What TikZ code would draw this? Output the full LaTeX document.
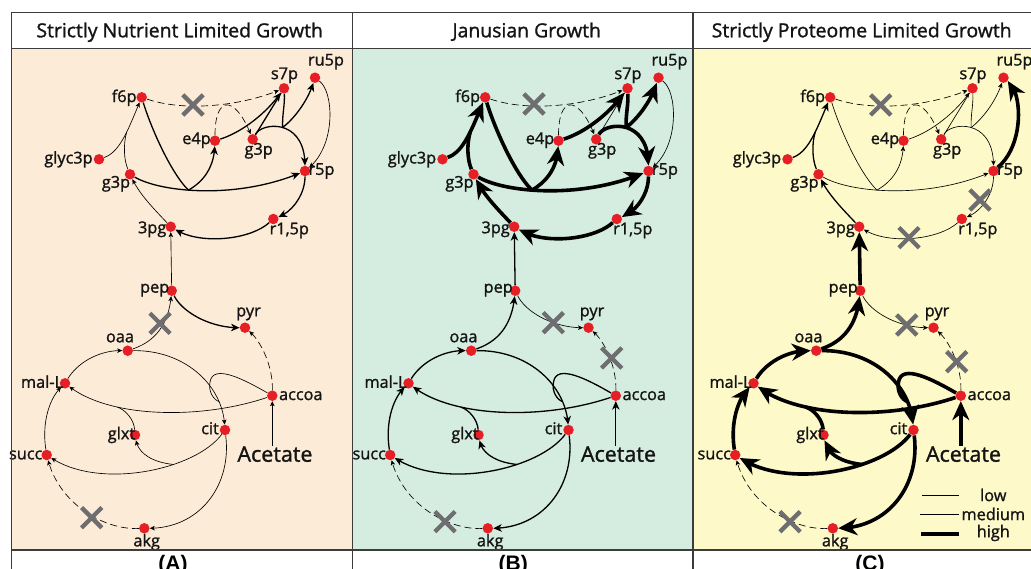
\documentclass[tikz,border=0pt]{standalone}
\usepackage{fontspec}
\setmainfont{Open Sans}
\newfontfamily\labfont{Open Sans}[FakeBold=1.3]
\newfontfamily\panelfont{Liberation Sans}
\usetikzlibrary{arrows.meta,bending,shapes.misc}
\pgfdeclarelayer{bgfill}
\pgfdeclarelayer{edges}
\pgfsetlayers{bgfill,edges,main}
\definecolor{bgA}{RGB}{252,235,214}
\definecolor{bgB}{RGB}{213,237,225}
\definecolor{bgC}{RGB}{254,249,200}
\definecolor{dotred}{RGB}{230,30,37}
\definecolor{xgray}{RGB}{110,110,113}
\definecolor{framecol}{RGB}{60,60,60}
\definecolor{ink}{RGB}{20,20,20}
\tikzset{
  dot/.style={circle, fill=dotred, inner sep=0pt, minimum size=10.5pt},
  lbl/.style={inner sep=0pt, text=ink, font=\labfont\fontsize{16.3}{18}\selectfont},
  ttl/.style={inner sep=0pt, text=ink, font=\labfont\fontsize{19.4}{22}\selectfont, anchor=base},
  plab/.style={inner sep=0pt, font=\panelfont\bfseries\fontsize{21}{24}\selectfont, anchor=base},
  lo/.style={line width=0.65pt, >={Stealth[length=5pt,width=4.5pt,inset=1.2pt]}},
  me/.style={line width=1.3pt, >={Stealth[length=8.5pt,width=7.5pt,inset=2.5pt]}},
  hi/.style={line width=3.6pt, >={Stealth[length=19pt,width=17pt,inset=6pt]}},
  da/.style={lo, dash pattern=on 7pt off 4pt},
  xmark/.style={cross out, draw=xgray, line width=4.3pt, minimum size=16pt, inner sep=0pt},
  frm/.style={draw=framecol, line width=1.3pt},
  wE4S7/.style=lo, wG3S7/.style=lo, wTK1/.style=lo, wRPI/.style={lo,->},
  wTK2/.style=lo, wFBA/.style=lo, wR5R15/.style=lo, wR153/.style=lo,
  wPG/.style=lo, wPEP3/.style=lo, wPYR/.style=lo, wOAA/.style=lo,
  wAPYR/.style=da, wTCA/.style=lo, wAKG/.style=da, wAC/.style=lo
}
\newcommand\lab[4]{\node[lbl] (#1-t) at ([shift={(#2,#3)}]#1) {#4};}
\newcommand\PanelBody{%
  \node[dot] (f6p) at (141.7,97.3) {};
  \node[dot] (s7p) at (284,88.3) {};
  \node[dot] (ru5p) at (315,77.7) {};
  \node[dot] (e4p) at (215,140.7) {};
  \node[dot] (g3pU) at (252.7,139.3) {};
  \node[dot] (glyc3p) at (99,159.3) {};
  \node[dot] (g3pL) at (130,174.3) {};
  \node[dot] (r5p) at (305,171) {};
  \node[dot] (r15p) at (273.3,219) {};
  \node[dot] (3pg) at (170.7,226.7) {};
  \node[dot] (pep) at (171.7,290.7) {};
  \node[dot] (pyr) at (245,327.7) {};
  \node[dot] (oaa) at (127.7,350.7) {};
  \node[dot] (malL) at (65,383.3) {};
  \node[dot] (accoa) at (272.3,395.7) {};
  \node[dot] (cit) at (225,430) {};
  \node[dot] (glxt) at (135,435) {};
  \node[dot] (succ) at (46.7,455) {};
  \node[dot] (akg) at (144.3,528.3) {};
  \node[inner sep=0pt, text=ink, font=\labfont\fontsize{21.5}{24}\selectfont, anchor=base] (acetate) at (275,461.7) {Acetate};
  \lab{f6p}{-17.5}{0.5}{f6p}
  \lab{s7p}{0.5}{-13}{s7p}
  \lab{ru5p}{11}{-16}{ru5p}
  \lab{e4p}{-18.5}{-0.5}{e4p}
  \lab{g3pU}{6}{11.5}{g3p}
  \lab{glyc3p}{-30.5}{0}{glyc3p}
  \lab{g3pL}{-14}{9.5}{g3p}
  \lab{r5p}{16.5}{0}{r5p}
  \lab{r15p}{16}{11.5}{r1,5p}
  \lab{3pg}{-18.5}{2.6}{3pg}
  \lab{pep}{-17}{-0.5}{pep}
  \lab{pyr}{3.5}{-13.8}{pyr}
  \lab{oaa}{-7.7}{-12.8}{oaa}
  \lab{malL}{-23}{-1.6}{mal-L}
  \lab{accoa}{28.5}{0}{accoa}
  \lab{cit}{-15}{-1.7}{cit}
  \lab{glxt}{-13.5}{0}{glxt}
  \lab{succ}{-21}{0}{succ}
  \lab{akg}{2.4}{13.8}{akg}
  \begin{pgfonlayer}{edges}
  % pentose phosphate part
  \draw[da,->] (f6p) .. controls (185,112) and (240,106) .. (s7p);
  \draw[da,->] (e4p) .. controls (215,95) and (235,95) .. (g3pU);
  \draw[wE4S7,->] (e4p) .. controls (240,133) and (265,115) .. (s7p);
  \draw[wG3S7] (g3pU) -- (s7p);
  \draw[wTK1,->] (g3pU) .. controls (262,122) and (305,118) .. (r5p) coordinate[pos=0.5] (J1);
  \draw[wTK1] (s7p) .. controls (285,105) and (282,115) .. (J1);
  \draw[wTK1,->] (J1) .. controls (295,118) and (308,100) .. (ru5p);
  \draw[wRPI] (ru5p) .. controls (334,92) and (336,145) .. (r5p);
  \draw[wTK2,->] (g3pL) .. controls (160,192) and (235,200) .. (r5p) coordinate[pos=0.42] (J2);
  \draw[wTK2] (f6p) .. controls (150,125) and (170,172) .. (J2);
  \draw[wTK2,->] (J2) .. controls (206,180) and (214,165) .. (e4p);
  \draw[wFBA,->] (glyc3p) .. controls (120,152) and (128,130) .. (f6p) coordinate[pos=0.6] (J4);
  \draw[wFBA] (g3pL) .. controls (124,160) and (123,145) .. (J4);
  \draw[wR5R15,->] (r5p) .. controls (305,195) and (292,212) .. (r15p);
  \draw[wR153,->] (r15p) .. controls (250,240) and (200,245) .. (3pg);
  \draw[wPG,->] (3pg) .. controls (155,210) and (140,195) .. (g3pL);
  \draw[wPEP3,->] (pep) -- (3pg);
  % lower part
  \draw[wPYR,->] (pep) .. controls (182,312) and (210,328) .. (pyr);
  \draw[wOAA,->] (oaa) .. controls (150,343) and (168,330) .. (pep);
  \draw[wAPYR,->] (accoa) .. controls (273,365) and (260,340) .. (pyr);
  \draw[wTCA,->] (malL) .. controls (78,362) and (100,350) .. (oaa);
  \draw[wTCA,->] (oaa) .. controls (185,350) and (222,385) .. (cit) coordinate[pos=0.8] (J5);
  \draw[wTCA] (accoa) .. controls (245,380) and (213,363) .. (210,382) .. controls (208,392) and (214,400) .. (J5);
  \draw[wTCA,->] (accoa) .. controls (200,420) and (110,418) .. (malL) coordinate[pos=0.7] (J6);
  \draw[wTCA] (glxt) .. controls (134,420) and (126,410) .. (J6);
  \draw[wTCA,->] (cit) .. controls (195,470) and (100,490) .. (succ) coordinate[pos=0.35] (J3);
  \draw[wTCA,->] (J3) .. controls (150,462) and (138,452) .. (glxt);
  \draw[wTCA,->] (cit) .. controls (232,485) and (200,528) .. (akg);
  \draw[wAKG,->] (akg) .. controls (105,530) and (60,505) .. (succ);
  \draw[wTCA,->] (succ) .. controls (42,425) and (48,400) .. (malL);
  \draw[wAC,->] (acetate.north -| accoa) -- (accoa);
  \end{pgfonlayer}
}
\begin{document}
\begin{tikzpicture}[x=1pt,y=-1pt]
\useasboundingbox (0,0) rectangle (1031,569);
\begin{pgfonlayer}{bgfill}
  \fill[white] (0,0) rectangle (1031,569);
  \fill[bgA] (11.7,48.3) rectangle (352.3,550);
  \fill[bgB] (352.3,48.3) rectangle (693,550);
  \fill[bgC] (693,48.3) rectangle (1035,550);
\end{pgfonlayer}
% panel A
\begin{scope}[name prefix=A-,
  wE4S7/.style=me, wG3S7/.style=me, wTK1/.style=me, wRPI/.style={lo,->},
  wTK2/.style=me, wFBA/.style=lo, wR5R15/.style=me, wR153/.style=me,
  wPG/.style=lo, wPEP3/.style=lo, wPYR/.style=me, wOAA/.style=lo,
  wAPYR/.style=da, wTCA/.style=lo, wAKG/.style=da, wAC/.style=lo]
  \PanelBody
  \node[xmark] (x1) at (193,105) {};
  \node[xmark] (x2) at (160,323.3) {};
  \node[xmark] (x3) at (91.7,517.7) {};
\end{scope}
% panel B
\begin{scope}[xshift=343.5pt, name prefix=B-,
  wE4S7/.style=hi, wG3S7/.style=lo, wTK1/.style=hi, wRPI/.style={lo,->},
  wTK2/.style=hi, wFBA/.style=hi, wR5R15/.style=hi, wR153/.style=hi,
  wPG/.style=hi, wPEP3/.style=me, wPYR/.style=lo, wOAA/.style=me,
  wAPYR/.style=da, wTCA/.style=me, wAKG/.style=da, wAC/.style=me]
  \PanelBody
  \node[xmark] (x1) at (190.5,104) {};
  \node[xmark] (x2) at (209.8,322.7) {};
  \node[xmark] (x3) at (268.2,358) {};
  \node[xmark] (x4) at (101.5,521.7) {};
\end{scope}
% panel C
\begin{scope}[xshift=688.5pt, name prefix=C-,
  wE4S7/.style=lo, wG3S7/.style=lo, wTK1/.style=lo, wRPI/.style={hi,<-},
  wTK2/.style=lo, wFBA/.style=me, wR5R15/.style=lo, wR153/.style=lo,
  wPG/.style=me, wPEP3/.style=hi, wPYR/.style=lo, wOAA/.style=hi,
  wAPYR/.style=da, wTCA/.style=hi, wAKG/.style=da, wAC/.style=hi]
  \PanelBody
  \node[xmark] (x1) at (192.2,105) {};
  \node[xmark] (x2) at (291.5,200) {};
  \node[xmark] (x3) at (220.5,237.7) {};
  \node[xmark] (x4) at (218.2,325) {};
  \node[xmark] (x5) at (268.2,361.7) {};
  \node[xmark] (x6) at (101.5,521.7) {};
\end{scope}
% legend
\draw[lo] (922.3,495) -- (959.3,495);
\draw[me] (920,514.3) -- (959.3,514.3);
\draw[hi] (921,534) -- (959.3,534);
\node[lbl] (lgLow) at (993.3,495) {low};
\node[lbl] (lgMed) at (993.3,514) {medium};
\node[lbl] (lgHigh) at (993.3,533) {high};
% frame
\draw[frm] (11.7,12.3) -- (1035,12.3);
\draw[frm] (11.7,48.3) -- (1035,48.3);
\draw[frm] (11.7,550) -- (1035,550);
\draw[frm] (11.7,12.3) -- (11.7,575);
\draw[frm] (352.3,12.3) -- (352.3,575);
\draw[frm] (693,12.3) -- (693,575);
% titles
\node[ttl] (tA) at (179.7,37.3) {Strictly Nutrient Limited Growth};
\node[ttl] (tB) at (526.7,37.3) {Janusian Growth};
\node[ttl] (tC) at (861.7,37.3) {Strictly Proteome Limited Growth};
\node[plab] (pA) at (173,570) {(A)};
\node[plab] (pB) at (513.3,570) {(B)};
\node[plab] (pC) at (870,570) {(C)};
\end{tikzpicture}
\end{document}
